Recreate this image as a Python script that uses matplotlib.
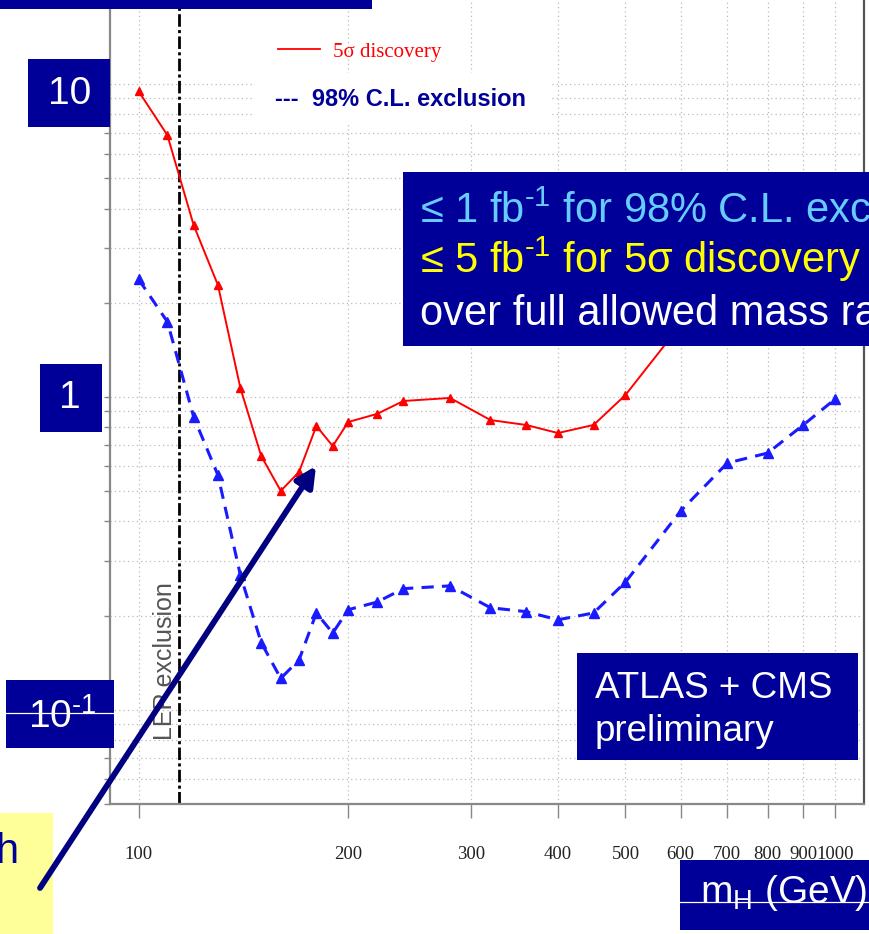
import matplotlib

matplotlib.use("Agg")
import matplotlib.pyplot as plt  # noqa: E402
from matplotlib.lines import Line2D  # noqa: E402
from matplotlib.patches import FancyArrowPatch, Rectangle  # noqa: E402
from matplotlib.ticker import FixedLocator, LogLocator, NullLocator, NullFormatter  # noqa: E402

plt.rcParams["font.family"] = ["Liberation Sans", "DejaVu Sans"]
plt.rcParams["mathtext.fontset"] = "custom"
plt.rcParams["mathtext.rm"] = "Liberation Sans"
plt.rcParams["mathtext.it"] = "Liberation Sans:italic"
plt.rcParams["mathtext.bf"] = "Liberation Sans:bold"

# Higgs mass points (GeV)
mass = [100, 110, 120, 130, 140, 150, 160, 170, 180, 190, 200, 220, 240,
        280, 320, 360, 400, 450, 500, 600, 700, 800, 900, 1000]
# integrated luminosity (fb^-1) needed for 5 sigma discovery
lumi_discovery = [9.5, 6.87, 3.54, 2.28, 1.07, 0.648, 0.501, 0.576, 0.808, 0.697,
                  0.832, 0.883, 0.971, 0.993, 0.844, 0.814, 0.767, 0.814, 1.015,
                  1.7, 2.3, 2.8, 3.3, 3.8]
# integrated luminosity (fb^-1) needed for 98% C.L. exclusion
lumi_exclusion = [2.38, 1.74, 0.863, 0.563, 0.270, 0.164, 0.126, 0.1445, 0.204, 0.176,
                  0.209, 0.221, 0.244, 0.249, 0.212, 0.206, 0.194, 0.204, 0.256,
                  0.432, 0.615, 0.662, 0.814, 0.985]
lep_limit = 114.4
xtick_vals = [100, 200, 300, 400, 500, 600, 700, 800, 900, 1000]
xtick_labels = [str(v) for v in xtick_vals]

W, H = 870, 934
NAVY = "#000099"
SUP = "$^{\\text{-}1}$"


def fx(px):
    return px / W


def fy(py):
    return 1 - py / H


fig = plt.figure(figsize=(W / 100, H / 100), dpi=100)
fig.patch.set_facecolor("white")

# axes placed in pixel terms: left 110, right 864, bottom 804, top above the figure
ax = fig.add_axes([fx(110), fy(804), (864 - 110) / W, (804 + 10) / H])
ax.set_xscale("log")
ax.set_yscale("log")
ax.set_xlim(91, 1100)
ax.set_ylim(0.05, 20)

ax.xaxis.set_major_locator(FixedLocator(xtick_vals))
ax.xaxis.set_minor_locator(NullLocator())
ax.set_xticklabels(xtick_labels, family="Liberation Serif", fontsize=13.5, color="#222222")
ax.yaxis.set_major_locator(LogLocator(base=10))
ax.yaxis.set_minor_locator(LogLocator(base=10, subs=range(2, 10)))
ax.yaxis.set_major_formatter(NullFormatter())
ax.yaxis.set_minor_formatter(NullFormatter())
ax.tick_params(axis="x", which="major", direction="out", length=10, width=1,
               color="#888888", pad=20)
ax.tick_params(axis="y", which="both", direction="out", length=4.5, width=1,
               color="#888888", labelleft=False)

ax.grid(True, which="both", linestyle=(0, (1, 2.5)), color="#bbbbbb", lw=0.9)
for side in ("left", "bottom"):
    ax.spines[side].set_color("#888888")
    ax.spines[side].set_linewidth(1.6)
ax.spines["right"].set_color("#555555")
ax.spines["right"].set_linewidth(1.6)

ax.axvline(lep_limit, color="black", lw=2.0, linestyle=(0, (4.5, 1.2, 1.1, 1.2)))
fig.text(fx(165), fy(661), "LEP exclusion", rotation=90, ha="center", va="center",
         fontsize=18, color="#555555")

ax.plot(mass, lumi_discovery, color="#ff0000", lw=1.4, marker="^", markersize=6)
ax.plot(mass, lumi_exclusion, color="#1a1aff", lw=2.2, linestyle=(0, (4, 2.7)),
        marker="^", markersize=6.5)

ax.legend(handles=[Line2D([], [], color="#ff0000", lw=1.3)], labels=["5σ discovery"],
          loc="center left", bbox_to_anchor=(fx(278), fy(52)),
          bbox_transform=fig.transFigure, frameon=False, borderpad=0,
          borderaxespad=0, handlelength=2.0, handletextpad=0.65,
          prop={"family": "Liberation Serif", "size": 15}, labelcolor="#ff0000")


def box(x0, y0, x1, y1, color, z=5):
    fig.add_artist(Rectangle((fx(x0), fy(y1)), (x1 - x0) / W, (y1 - y0) / H,
                             transform=fig.transFigure, facecolor=color,
                             edgecolor="none", zorder=z))


def hline(x0, x1, y, color="white"):
    fig.add_artist(Line2D([fx(x0), fx(x1)], [fy(y), fy(y)], transform=fig.transFigure,
                          color=color, lw=0.9, zorder=7))


# slide overlays
box(0, 0, 372, 9, NAVY)
box(255, 73, 550, 125, "white")
fig.text(fx(275), fy(99), "---  98% C.L. exclusion", ha="left", va="center",
         fontsize=17, fontweight="bold", color=NAVY, zorder=6)

box(28, 59, 110, 127, NAVY)
fig.text(fx(70), fy(94), "10", ha="center", va="center", fontsize=28, color="white", zorder=6)
box(40, 364, 102, 432, NAVY)
fig.text(fx(70), fy(398), "1", ha="center", va="center", fontsize=28, color="white", zorder=6)
box(6, 680, 114, 748, NAVY)
fig.text(fx(28), fy(728), "10" + SUP, ha="left", va="baseline", fontsize=28,
         color="white", zorder=6)
hline(6, 114, 712.7)

box(403, 172, 875, 346, NAVY)
fig.text(fx(420), fy(223), "≤ 1 fb" + SUP + " for 98% C.L. exclusion", ha="left",
         va="baseline", fontsize=30, color="#66ccff", zorder=6)
fig.text(fx(420), fy(273), "≤ 5 fb" + SUP + " for 5σ discovery", ha="left",
         va="baseline", fontsize=30, color="#ffff00", zorder=6)
fig.text(fx(420), fy(325), "over full allowed mass range", ha="left",
         va="baseline", fontsize=30, color="white", zorder=6)

box(577, 653, 858, 760, NAVY)
fig.text(fx(595), fy(698), "ATLAS + CMS", ha="left", va="baseline", fontsize=26.5,
         color="white", zorder=6)
fig.text(fx(595), fy(741), "preliminary", ha="left", va="baseline", fontsize=26.5,
         color="white", zorder=6)

box(680, 860, 875, 930, NAVY)
fig.text(fx(700), fy(903), "m$_{\\mathrm{H}}$ (GeV)", ha="left", va="baseline",
         fontsize=28, color="white", zorder=6)
hline(680, 870, 902)

box(0, 813, 53, 940, "#ffff99")
fig.text(fx(18), fy(863), "h", ha="right", va="baseline", fontsize=30, color=NAVY, zorder=6)

fig.add_artist(FancyArrowPatch((fx(40), fy(888)), (fx(316), fy(466)),
                               transform=fig.transFigure,
                               arrowstyle="-|>,head_length=0.6,head_width=0.3",
                               mutation_scale=20, lw=4.2, color="#000080",
                               shrinkA=0, shrinkB=0, zorder=8))

fig.savefig("out.png", dpi=100)
